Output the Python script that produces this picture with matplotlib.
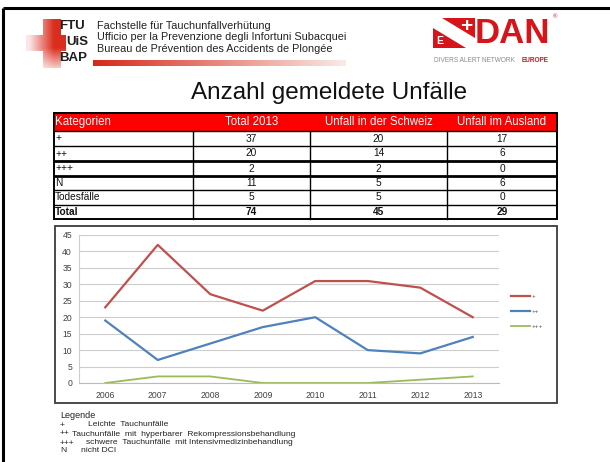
import numpy as np
import matplotlib
matplotlib.use("Agg")
import matplotlib.pyplot as plt
from matplotlib.patches import Rectangle, Polygon

# ---------------- data ----------------
header = ["Kategorien", "Total 2013", "Unfall in der Schweiz", "Unfall im Ausland"]
categories = ["+", "++", "+++", "N", "Todesfälle", "Total"]
total_2013 = [37, 20, 2, 11, 5, 74]
schweiz = [20, 14, 2, 5, 5, 45]
ausland = [17, 6, 0, 6, 0, 29]

years = ["2006", "2007", "2008", "2009", "2010", "2011", "2012", "2013"]
plus = [23, 42, 27, 22, 31, 31, 29, 20]
plusplus = [19, 7, 12, 17, 20, 10, 9, 14]
plus3 = [0, 2, 2, 0, 0, 0, 1, 2]
series_labels = ["+", "++", "+++"]
yticks = [0, 5, 10, 15, 20, 25, 30, 35, 40, 45]

legend_sym = ["+", "++", "+++", "N"]
legend_txt = ["Leichte  Tauchunfälle",
              "Tauchunfälle  mit  hyperbarer  Rekompressionsbehandlung",
              "schwere  Tauchunfälle  mit Intensivmedizinbehandlung",
              "nicht DCI"]

header_lines = ["Fachstelle für Tauchunfallverhütung",
                "Ufficio per la Prevenzione degli Infortuni Subacquei",
                "Bureau de Prévention des Accidents de Plongée"]
title = "Anzahl gemeldete Unfälle"

W, H = 610, 462
SANS = ["Liberation Sans", "DejaVu Sans"]
plt.rcParams["font.family"] = SANS

fig = plt.figure(figsize=(W / 100, H / 100), dpi=100)
fig.patch.set_facecolor("white")
ov = fig.add_axes([0, 0, 1, 1])
ov.set_xlim(0, W)
ov.set_ylim(H, 0)
ov.axis("off")

# outer frame (top + left)
ov.plot([3, W], [8, 8], color="black", lw=2.2, solid_capstyle="butt")
ov.plot([3, 3], [8, H], color="black", lw=2.2, solid_capstyle="butt")

# ---------------- FTU logo ----------------
gx0, gx1, gy0, gy1 = 26, 66, 19, 68
nx, ny = 80, 100
xx, yy = np.meshgrid(np.linspace(gx0, gx1, nx), np.linspace(gy0, gy1, ny))
alpha = np.clip((xx - gx0) / 28.0, 0.12, 1.0)
alpha *= 1 - 0.75 * np.clip((yy - 48) / 20.0, 0, 1)
img = np.zeros((ny, nx, 4))
img[..., 0] = 0.86
img[..., 1] = 0.18
img[..., 2] = 0.12
img[..., 3] = alpha
im = ov.imshow(img, extent=(gx0, gx1, gy1, gy0), interpolation="bilinear", zorder=2)
cross = Polygon([(43, 19), (61, 19), (61, 35), (66, 35), (66, 51), (61, 51), (61, 68),
                 (43, 68), (43, 51), (26, 51), (26, 35), (43, 35)],
                closed=True, transform=ov.transData, facecolor="none", edgecolor="none")
ov.add_patch(cross)
im.set_clip_path(cross)
for txt, x, y in [("FTU", 59, 26), ("UiS", 66, 42), ("BAP", 59, 58)]:
    ov.text(x, y, txt, fontsize=9.5, fontweight="bold", color="#1e1e1e",
            va="center", ha="left", zorder=3)

for i, line in enumerate(header_lines):
    ov.text(97, 26 + i * 11.5, line, fontsize=7.8, color="#222222",
            va="center", ha="left")

# gradient bar
bar = np.zeros((1, 200, 4))
t = np.linspace(0, 1, 200)
bar[0, :, 0] = 0.84 + 0.14 * t
bar[0, :, 1] = 0.16 + 0.76 * t
bar[0, :, 2] = 0.10 + 0.80 * t
bar[0, :, 3] = 1.0
ov.imshow(bar, extent=(93, 346, 66, 60), interpolation="bilinear", aspect="auto", zorder=2)

# ---------------- DAN logo ----------------
red = "#D7141A"
fx0, fx1, fy0, fy1 = 433, 475, 18, 48
ov.add_patch(Rectangle((fx0, fy0), fx1 - fx0, fy1 - fy0, facecolor=red, edgecolor="none"))
band = Polygon([(fx0, fy0), (fx0 + 9, fy0), (fx1, fy1 - 10), (fx1, fy1), (fx1 - 9, fy1), (fx0, fy0 + 10)],
               closed=True, facecolor="white", edgecolor="none")
ov.add_patch(band)
ov.text(466, 26, "+", fontsize=15, fontweight="bold", color="white", ha="center", va="center")
ov.text(440, 41, "E", fontsize=7.5, fontweight="bold", color="white", ha="center", va="center")
ov.text(475, 33.5, "DAN", fontsize=25, fontweight="bold", color=red,
        ha="left", va="center")
ov.text(555, 17, "®", fontsize=4.2, color=red, ha="center", va="center")
ov.text(434, 61, "DIVERS ALERT NETWORK", fontsize=4.7, color="#8a8a8a",
        ha="left", va="center")
ov.text(549, 61, "EUROPE", fontsize=4.7, color=red, fontweight="bold",
        ha="right", va="center")

# ---------------- title ----------------
ov.text(329, 93, title, fontsize=17.5, color="#111111", ha="center", va="center")

# ---------------- table ----------------
col_x = [54, 193, 310, 447, 557]
row_y = [113, 131, 146, 161, 176, 190, 205, 219]
ov.add_patch(Rectangle((col_x[0], row_y[0]), col_x[-1] - col_x[0], row_y[1] - row_y[0],
                       facecolor="#FF0000", edgecolor="none"))
for j, h in enumerate(header):
    if j == 0:
        ov.text(col_x[0] + 1, (row_y[0] + row_y[1]) / 2, h, color="white", fontsize=8.3,
                ha="left", va="center")
    else:
        ov.text((col_x[j] + col_x[j + 1]) / 2, (row_y[0] + row_y[1]) / 2, h, color="white",
                fontsize=8.3, ha="center", va="center")
cols = [total_2013, schweiz, ausland]
for i, cat in enumerate(categories):
    yc = (row_y[i + 1] + row_y[i + 2]) / 2
    fw = "bold" if cat == "Total" else "normal"
    ov.text(col_x[0] + 1, yc, cat, fontsize=7.3, ha="left", va="center", color="#111111",
            fontweight=fw)
    for j, c in enumerate(cols):
        ov.text((col_x[j + 1] + col_x[j + 2]) / 2, yc, str(c[i]), fontsize=7.3, ha="center",
                va="center", color="#111111", fontweight=fw)
for k, y in enumerate(row_y[1:-1]):
    lw = 2.0 if k in (2, 3) else 1.0
    ov.plot([col_x[0], col_x[-1]], [y, y], color="black", lw=lw, solid_capstyle="butt")
for x in col_x[1:-1]:
    ov.plot([x, x], [row_y[1], row_y[-1]], color="black", lw=1.0)
ov.add_patch(Rectangle((col_x[0], row_y[0]), col_x[-1] - col_x[0], row_y[-1] - row_y[0],
                       facecolor="none", edgecolor="black", lw=1.4))

# ---------------- chart ----------------
ov.add_patch(Rectangle((55, 226), 502, 177, facecolor="white", edgecolor="#3c3c3c", lw=1.3))
L, R, T, B = 79, 499, 235, 383
ax = fig.add_axes([L / W, 1 - B / H, (R - L) / W, (B - T) / H])
ax.set_facecolor("none")
x = np.arange(len(years))
ax.plot(x, plus, color="#C0504D", lw=1.6, label=series_labels[0])
ax.plot(x, plusplus, color="#4F81BD", lw=1.6, label=series_labels[1])
ax.plot(x, plus3, color="#9BBB59", lw=1.3, label=series_labels[2])
ax.set_xlim(-0.5, len(years) - 0.5)
ax.set_ylim(0, 45)
ax.set_yticks(yticks)
ax.set_yticklabels([str(v) for v in yticks])
ax.set_xticks(x)
ax.set_xticklabels(years)
ax.grid(axis="y", color="#cdcdcd", lw=0.8)
ax.set_axisbelow(True)
for s in ["top", "right"]:
    ax.spines[s].set_visible(False)
ax.spines["left"].set_color("#cdcdcd")
ax.spines["bottom"].set_color("#bbbbbb")
ax.tick_params(length=0, labelsize=6.2, labelcolor="#404040", pad=5)
ax.tick_params(axis="x", pad=6)

leg = fig.legend(loc="upper left", bbox_to_anchor=(511 / W, 1 - 294 / H), frameon=False,
                 fontsize=4.5, handlelength=3.0, handletextpad=0.3, labelspacing=1.5,
                 borderpad=0, borderaxespad=0)
for t_ in leg.get_texts():
    t_.set_color("#505050")

# ---------------- legend text ----------------
ov.text(60, 415, "Legende", fontsize=6.5, color="#222222", ha="left", va="center")
sym_y = [425, 434, 443, 451]
txt_x = [88, 72, 86, 81]
for s, t_, y, xt in zip(legend_sym, legend_txt, sym_y, txt_x):
    ov.text(60, y, s, fontsize=6.1, color="#222222", ha="left", va="center")
    ov.text(xt, y, t_, fontsize=6.1, color="#222222", ha="left", va="center")

fig.savefig("out.png", dpi=100, facecolor="white")
